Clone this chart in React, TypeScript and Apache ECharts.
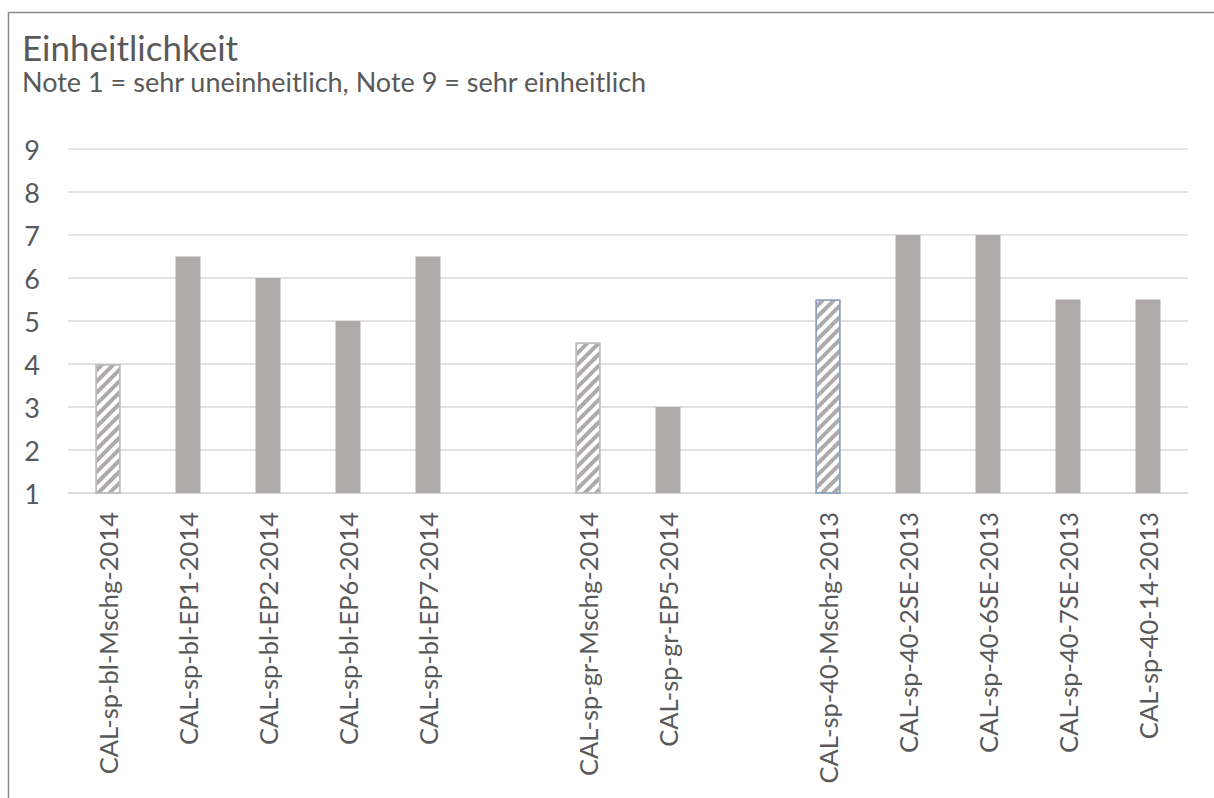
import React, { useEffect, useRef } from "react";
import * as echarts from "echarts";

const categories = [
  "CAL-sp-bl-Mschg-2014",
  "CAL-sp-bl-EP1-2014",
  "CAL-sp-bl-EP2-2014",
  "CAL-sp-bl-EP6-2014",
  "CAL-sp-bl-EP7-2014",
  " ",
  "CAL-sp-gr-Mschg-2014",
  "CAL-sp-gr-EP5-2014",
  "  ",
  "CAL-sp-40-Mschg-2013",
  "CAL-sp-40-2SE-2013",
  "CAL-sp-40-6SE-2013",
  "CAL-sp-40-7SE-2013",
  "CAL-sp-40-14-2013",
];
const values: (number | null)[] = [4, 6.5, 6, 5, 6.5, null, 4.5, 3, null, 5.5, 7, 7, 5.5, 5.5];
const hatched = [true, false, false, false, false, false, true, false, false, true, false, false, false, false];
const outlineColors = ["#BDBDBD", "", "", "", "", "", "#BDBDBD", "", "", "#8EA3C1", "", "", "", ""];

const titleText = "Einheitlichkeit";
const subtitleText = "Note 1 = sehr uneinheitlich, Note 9 = sehr einheitlich";

const FONT = "Lato, 'Noto Sans', sans-serif";
const TEXT = "#595959";
const BAR = "#AEAAAA";
const GRIDC = "#D9D9D9";

export default function App() {
  const ref = useRef<HTMLDivElement>(null);
  useEffect(() => {
    if (!ref.current) return;
    const chart = echarts.init(ref.current, null, { renderer: "svg" });
    const data = values.map((v, i) => {
      if (v === null) return null;
      if (hatched[i]) {
        return {
          value: v,
          itemStyle: {
            color: "#FFFFFF",
            borderColor: outlineColors[i],
            borderWidth: 1.5,
            decal: {
              symbol: "rect",
              symbolSize: 1,
              dashArrayX: [1, 0],
              dashArrayY: [4, 4],
              rotation: -Math.PI / 4,
              color: BAR,
              backgroundColor: "#FFFFFF",
            },
          },
        };
      }
      return { value: v, itemStyle: { color: BAR } };
    });
    chart.setOption({
      animation: false,
      backgroundColor: "#FFFFFF",
      textStyle: { fontFamily: FONT },
      grid: { left: 68, right: 26, top: 149, bottom: 305 },
      graphic: [
        {
          type: "rect",
          shape: { x: 8.5, y: 12.5, width: 1240, height: 820 },
          style: { fill: "none", stroke: "#8A8A8A", lineWidth: 1.5 },
          silent: true,
        },
        {
          type: "text",
          x: 22,
          y: 47,
          style: { text: titleText, font: `35px ${FONT}`, fill: TEXT, verticalAlign: "middle" },
        },
        {
          type: "text",
          x: 22,
          y: 81,
          style: { text: subtitleText, font: `27px ${FONT}`, fill: TEXT, verticalAlign: "middle" },
        },
      ],
      xAxis: {
        type: "category",
        data: categories,
        axisTick: { show: false },
        axisLine: { lineStyle: { color: GRIDC, width: 1.5 } },
        axisLabel: {
          rotate: 90,
          interval: 0,
          margin: 19,
          color: TEXT,
          fontSize: 25.5,
          fontFamily: FONT,
        },
      },
      yAxis: {
        type: "value",
        min: 1,
        max: 9,
        interval: 1,
        axisLine: { show: false },
        axisTick: { show: false },
        splitLine: { lineStyle: { color: GRIDC, width: 1.5 } },
        axisLabel: { color: TEXT, fontSize: 27, fontFamily: FONT, margin: 28 },
      },
      series: [
        {
          type: "bar",
          data,
          barWidth: 25,
        },
      ],
    });
    return () => chart.dispose();
  }, []);
  return (
    <div
      ref={ref}
      style={{ position: "absolute", left: 0, top: 0, width: 1214, height: 798 }}
    />
  );
}
